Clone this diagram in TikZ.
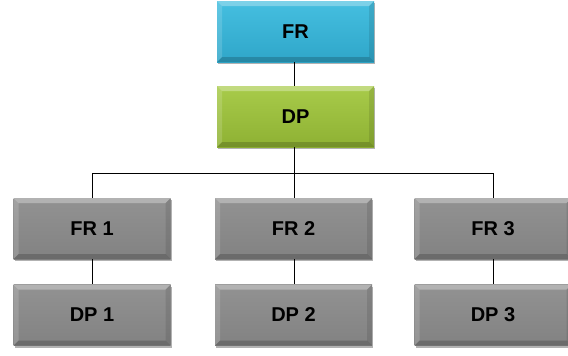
\documentclass[tikz,border=0pt]{standalone}
\usepackage{fontspec}
\setmainfont{Liberation Sans}
\usetikzlibrary{shadows}
\definecolor{frbluetop}{HTML}{45BFE0}
\definecolor{frbluebot}{HTML}{2FA6C9}
\definecolor{dpgreentop}{HTML}{A8CB4A}
\definecolor{dpgreenbot}{HTML}{8EB133}
\definecolor{gboxtop}{HTML}{929292}
\definecolor{gboxbot}{HTML}{828282}
\tikzset{
  bevelbox/.style={minimum width=157pt, minimum height=61pt, inner sep=0pt,
    font=\bfseries\fontsize{20}{24}\selectfont, text=black,
    drop shadow={shadow xshift=1pt, shadow yshift=-2pt, opacity=0.3, fill=black},
    path picture={
      \fill[white,opacity=0.3] (path picture bounding box.north west) -- (path picture bounding box.north east)
        -- ([shift={(-5pt,-5pt)}]path picture bounding box.north east) -- ([shift={(5pt,-5pt)}]path picture bounding box.north west) -- cycle;
      \fill[white,opacity=0.15] (path picture bounding box.north west) -- (path picture bounding box.south west)
        -- ([shift={(5pt,5pt)}]path picture bounding box.south west) -- ([shift={(5pt,-5pt)}]path picture bounding box.north west) -- cycle;
      \fill[black,opacity=0.18] (path picture bounding box.south west) -- (path picture bounding box.south east)
        -- ([shift={(-5pt,5pt)}]path picture bounding box.south east) -- ([shift={(5pt,5pt)}]path picture bounding box.south west) -- cycle;
      \fill[black,opacity=0.1] (path picture bounding box.north east) -- (path picture bounding box.south east)
        -- ([shift={(-5pt,5pt)}]path picture bounding box.south east) -- ([shift={(-5pt,-5pt)}]path picture bounding box.north east) -- cycle;
    }},
  frtop/.style={bevelbox, top color=frbluetop, bottom color=frbluebot},
  dptop/.style={bevelbox, top color=dpgreentop, bottom color=dpgreenbot},
  graybox/.style={bevelbox, top color=gboxtop, bottom color=gboxbot},
  conn/.style={draw=black, line width=1pt}
}
\begin{document}
\begin{tikzpicture}[x=1pt,y=-1pt]
\useasboundingbox (0,0) rectangle (568,356);
\node[frtop] (fr) at (295.5,31.5) {FR};
\node[dptop] (dp) at (295.5,116.5) {DP};
\node[graybox] (fr1) at (92,228.5) {FR 1};
\node[graybox] (dp1) at (92,315) {DP 1};
\node[graybox] (fr2) at (293.5,228.5) {FR 2};
\node[graybox] (dp2) at (293.5,315) {DP 2};
\node[graybox] (fr3) at (493,228.5) {FR 3};
\node[graybox] (dp3) at (493,315) {DP 3};
\coordinate (bus) at (294,173);
\draw[conn] (fr.south -| bus) -- (dp.north -| bus);
\draw[conn] (dp.south -| bus) -- (bus);
\draw[conn] (bus -| fr1) -- (bus -| fr3);
\draw[conn] (bus -| fr1) -- (fr1.north);
\draw[conn] (bus) -- (fr2.north -| bus);
\draw[conn] (bus -| fr3) -- (fr3.north);
\draw[conn] (fr1.south) -- (dp1.north);
\draw[conn] (fr2.south -| bus) -- (dp2.north -| bus);
\draw[conn] (fr3.south) -- (dp3.north);
\end{tikzpicture}
\end{document}
